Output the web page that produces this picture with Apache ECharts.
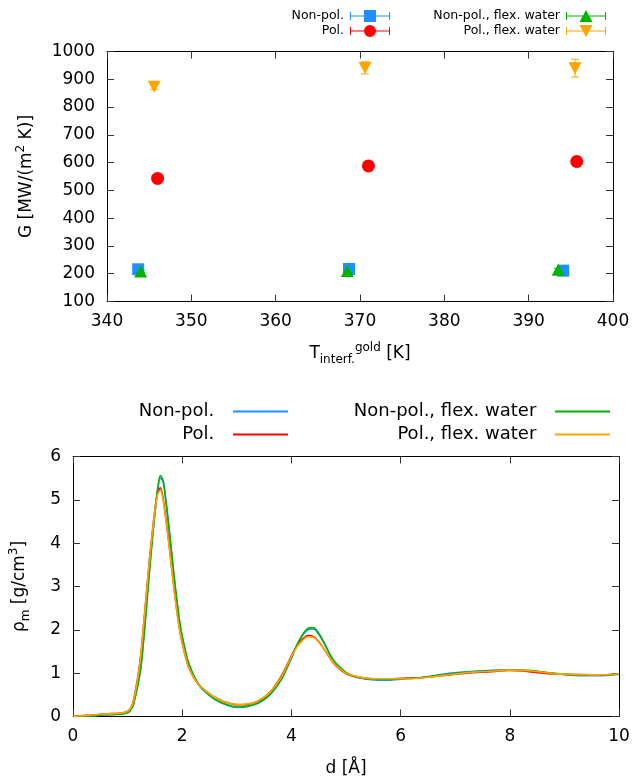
<!DOCTYPE html>
<html>
<head>
<meta charset="utf-8">
<script src="https://cdn.jsdelivr.net/npm/echarts@6/dist/echarts.min.js"></script>
<style>
  html, body { margin: 0; padding: 0; background: #fff; }
  #chart { width: 634px; height: 780px; }
</style>
</head>
<body>
<div id="chart"></div>
<script>
// ---------- Interface conductance G vs. gold interface temperature ----------
const seriesNames = ['Non-pol.', 'Pol.', 'Non-pol., flex. water', 'Pol., flex. water'];

const tempNonPol = [343.7, 368.7, 394.1];
const gNonPol = [216, 217, 211];
const errNonPol = [4, 5, 5];

const tempPol = [346.0, 371.0, 395.7];
const gPol = [543, 588, 604];
const errPol = [8, 13, 17];

const tempNonPolFlex = [344.0, 368.5, 393.5];
const gNonPolFlex = [208, 210, 214];
const errNonPolFlex = [4, 5, 5];

const tempPolFlex = [345.6, 370.6, 395.5];
const gPolFlex = [873, 941, 940];
const errPolFlex = [9, 22, 32];

const tempTicks = [340, 350, 360, 370, 380, 390, 400];
const gTicks = [100, 200, 300, 400, 500, 600, 700, 800, 900, 1000];

// ---------- Mass density profile rho_m vs. distance d ----------
const dVals = [0, 0.2, 0.4, 0.6, 0.8, 0.9, 1.0, 1.05, 1.1, 1.15, 1.2, 1.25, 1.3, 1.35, 1.4,
  1.45, 1.5, 1.55, 1.6, 1.65, 1.7, 1.75, 1.8, 1.85, 1.9, 1.95, 2.0, 2.1, 2.2, 2.3,
  2.4, 2.6, 2.8, 3.0, 3.2, 3.4, 3.6, 3.8, 4.0, 4.1, 4.2, 4.3, 4.4, 4.5, 4.6,
  4.7, 4.8, 5.0, 5.2, 5.4, 5.6, 5.8, 6.0, 6.4, 6.8, 7.2, 7.6, 8.0, 8.4, 8.8,
  9.2, 9.6, 10.0];

const rhoNonPol = [0, 0.01, 0.02, 0.04, 0.05, 0.06, 0.09, 0.14, 0.26, 0.52, 0.82, 1.22, 1.87, 2.62, 3.36,
  4.05, 4.68, 5.22, 5.5, 5.42, 4.98, 4.43, 3.84, 3.24, 2.7, 2.21, 1.84, 1.3, 0.97, 0.74,
  0.59, 0.39, 0.27, 0.21, 0.23, 0.31, 0.49, 0.82, 1.34, 1.64, 1.86, 2.0, 2.02, 1.9, 1.69,
  1.44, 1.23, 1.0, 0.9, 0.86, 0.84, 0.84, 0.86, 0.9, 0.98, 1.03, 1.06, 1.08, 1.05, 0.99,
  0.95, 0.94, 0.97];

const rhoPol = [0, 0.02, 0.04, 0.06, 0.07, 0.08, 0.12, 0.18, 0.33, 0.64, 1.02, 1.52, 2.22, 2.92, 3.62,
  4.22, 4.78, 5.17, 5.28, 5.04, 4.58, 4.07, 3.52, 2.97, 2.46, 2.03, 1.7, 1.2, 0.92, 0.74,
  0.62, 0.44, 0.33, 0.27, 0.28, 0.36, 0.55, 0.9, 1.4, 1.63, 1.78, 1.87, 1.85, 1.73, 1.55,
  1.36, 1.19, 0.99, 0.91, 0.87, 0.87, 0.87, 0.88, 0.9, 0.95, 1.0, 1.03, 1.06, 1.03, 0.98,
  0.97, 0.96, 0.98];

const rhoNonPolFlex = [0, 0.01, 0.02, 0.04, 0.05, 0.06, 0.09, 0.14, 0.25, 0.5, 0.8, 1.2, 1.85, 2.6, 3.35,
  4.05, 4.7, 5.25, 5.56, 5.45, 5.0, 4.45, 3.85, 3.25, 2.7, 2.22, 1.85, 1.3, 0.98, 0.75,
  0.6, 0.4, 0.28, 0.22, 0.24, 0.32, 0.5, 0.82, 1.35, 1.65, 1.88, 2.03, 2.05, 1.92, 1.7,
  1.45, 1.25, 1.02, 0.92, 0.88, 0.86, 0.86, 0.87, 0.9, 0.97, 1.02, 1.05, 1.08, 1.06, 1.0,
  0.96, 0.96, 0.98];

const rhoPolFlex = [0, 0.02, 0.04, 0.06, 0.07, 0.08, 0.12, 0.18, 0.32, 0.62, 1.0, 1.5, 2.2, 2.9, 3.6,
  4.2, 4.75, 5.12, 5.22, 5.0, 4.55, 4.05, 3.5, 2.95, 2.45, 2.02, 1.7, 1.2, 0.92, 0.74,
  0.62, 0.44, 0.33, 0.28, 0.29, 0.37, 0.55, 0.88, 1.38, 1.6, 1.75, 1.84, 1.83, 1.72, 1.55,
  1.37, 1.2, 1.0, 0.92, 0.88, 0.87, 0.87, 0.87, 0.89, 0.95, 1.01, 1.04, 1.07, 1.05, 0.99,
  0.97, 0.96, 0.98];

const dTicks = [0, 2, 4, 6, 8, 10];
const rhoTicks = [0, 1, 2, 3, 4, 5, 6];

// ---------- styling ----------
const colors = ['#1e90ff', '#ff0000', '#00b400', '#ffa500'];
const FONT = 'DejaVu Sans';
const INK = '#000';

// legend glyphs: error bar with caps and the marker in the middle (40 x 12)
const bar = 'M0,5.5 L40,5.5 L40,6.5 L0,6.5 Z M0,2 L1,2 L1,10 L0,10 Z M39,2 L40,2 L40,10 L39,10 Z ';
const legendIcons = [
  'path://' + bar + 'M14,0 L26,0 L26,12 L14,12 Z',
  'path://' + bar + 'M26,6 A6,6 0 1,1 14,6 A6,6 0 1,1 26,6 Z',
  'path://' + bar + 'M20,0 L26.5,12 L13.5,12 Z',
  'path://' + bar + 'M13.5,0 L26.5,0 L20,12 Z'
];

const markerSpec = [
  { symbol: 'rect', symbolSize: 12, symbolRotate: 0 },
  { symbol: 'circle', symbolSize: 13, symbolRotate: 0 },
  { symbol: 'triangle', symbolSize: [13, 12], symbolRotate: 0 },
  { symbol: 'triangle', symbolSize: [13, 12], symbolRotate: 180 }
];

const tempSets = [tempNonPol, tempPol, tempNonPolFlex, tempPolFlex];
const gSets = [gNonPol, gPol, gNonPolFlex, gPolFlex];
const errSets = [errNonPol, errPol, errNonPolFlex, errPolFlex];
const rhoSets = [rhoNonPol, rhoPol, rhoNonPolFlex, rhoPolFlex];

function errorBars(xs, ys, errs, color) {
  return {
    type: 'custom',
    xAxisIndex: 0,
    yAxisIndex: 0,
    silent: true,
    clip: false,
    encode: { x: 0, y: [1, 2] },
    data: xs.map((x, i) => [x, ys[i] - errs[i], ys[i] + errs[i]]),
    renderItem: function (params, api) {
      const lo = api.coord([api.value(0), api.value(1)]);
      const hi = api.coord([api.value(0), api.value(2)]);
      const w = 4;
      const st = { stroke: color, lineWidth: 1 };
      return {
        type: 'group',
        children: [
          { type: 'line', shape: { x1: lo[0], y1: lo[1], x2: hi[0], y2: hi[1] }, style: st },
          { type: 'line', shape: { x1: lo[0] - w, y1: lo[1], x2: lo[0] + w, y2: lo[1] }, style: st },
          { type: 'line', shape: { x1: hi[0] - w, y1: hi[1], x2: hi[0] + w, y2: hi[1] }, style: st }
        ]
      };
    }
  };
}

const series = [];
for (let k = 0; k < 4; k++) {
  series.push(errorBars(tempSets[k], gSets[k], errSets[k], colors[k]));
  series.push({
    name: seriesNames[k],
    type: 'scatter',
    xAxisIndex: 0,
    yAxisIndex: 0,
    symbol: markerSpec[k].symbol,
    symbolSize: markerSpec[k].symbolSize,
    symbolRotate: markerSpec[k].symbolRotate,
    itemStyle: { color: colors[k], opacity: 1 },
    data: tempSets[k].map((t, i) => [t, gSets[k][i]])
  });
}
for (let k = 0; k < 4; k++) {
  series.push({
    name: seriesNames[k] + ' ',
    type: 'line',
    xAxisIndex: 2,
    yAxisIndex: 2,
    showSymbol: false,
    smooth: 0.3,
    lineStyle: { color: colors[k], width: 1.6 },
    itemStyle: { color: colors[k] },
    data: dVals.map((d, i) => [d, rhoSets[k][i]])
  });
}

const tickLine = { show: true, inside: true, length: 7, lineStyle: { color: '#333', width: 1 } };
const frameLine = { show: true, onZero: false, lineStyle: { color: INK, width: 1 } };
const labelStyle = { color: INK, fontSize: 17, fontFamily: FONT };

const richText = {
  n: { fontSize: 17, fontFamily: FONT, color: INK, lineHeight: 24 },
  sub: { fontSize: 12, fontFamily: FONT, color: INK, lineHeight: 12, verticalAlign: 'bottom' },
  sup: { fontSize: 12, fontFamily: FONT, color: INK, lineHeight: 10, verticalAlign: 'top' }
};

function valueAxis(gridIndex, position, ticks, showLabels, extra) {
  return Object.assign({
    type: 'value',
    gridIndex: gridIndex,
    position: position,
    min: ticks[0],
    max: ticks[ticks.length - 1],
    interval: ticks[1] - ticks[0],
    axisLine: frameLine,
    axisTick: tickLine,
    splitLine: { show: false },
    axisLabel: Object.assign({ show: showLabels, margin: 12, formatter: v => String(v) }, labelStyle)
  }, extra || {});
}

function legendItem(k, right, top, icon, opts) {
  return {
    data: [{ name: seriesNames[k] + opts.suffix, icon: icon }],
    orient: 'vertical',
    align: 'right',
    right: right,
    top: top,
    padding: 0,
    selectedMode: false,
    itemWidth: opts.w,
    itemHeight: opts.h,
    textStyle: { color: INK, fontFamily: FONT, fontSize: opts.fs, padding: opts.pad }
  };
}

const topOpts = { suffix: '', w: 40, h: 12, fs: 12.5, pad: [0, 1, 0, 0] };
const botOpts = { suffix: ' ', w: 55, h: 2, fs: 18, pad: [0, 8, 0, 0] };

const option = {
  animation: false,
  backgroundColor: '#fff',
  grid: [
    { left: 107, right: 21, top: 51.5, height: 250 },
    { left: 73, right: 15, top: 456.5, height: 260 }
  ],
  legend: [
    legendItem(0, 244, 9.5, legendIcons[0], topOpts),
    legendItem(1, 244, 24.5, legendIcons[1], topOpts),
    legendItem(2, 28, 9.5, legendIcons[2], topOpts),
    legendItem(3, 28, 24.5, legendIcons[3], topOpts),
    legendItem(0, 346, 402.5, 'rect', botOpts),
    legendItem(1, 346, 425.5, 'rect', botOpts),
    legendItem(2, 24, 402.5, 'rect', botOpts),
    legendItem(3, 24, 425.5, 'rect', botOpts)
  ],
  xAxis: [
    valueAxis(0, 'bottom', tempTicks, true, {
      name: '{n|T}{sub|interf.}{sup|gold}{n| [K]}',
      nameLocation: 'middle',
      nameGap: 40,
      nameTextStyle: { rich: richText }
    }),
    valueAxis(0, 'top', tempTicks, false),
    valueAxis(1, 'bottom', dTicks, true, {
      name: '{n|d [Å]}',
      nameLocation: 'middle',
      nameGap: 40,
      nameTextStyle: { rich: richText }
    }),
    valueAxis(1, 'top', dTicks, false)
  ],
  yAxis: [
    valueAxis(0, 'left', gTicks, true, {
      name: '{n|G [MW/(m}{sup|2}{n| K)]}',
      nameLocation: 'middle',
      nameGap: 68,
      nameTextStyle: { rich: richText }
    }),
    valueAxis(0, 'right', gTicks, false),
    valueAxis(1, 'left', rhoTicks, true, {
      name: '{n|ρ}{sub|m}{n| [g/cm}{sup|3}{n|]}',
      nameLocation: 'middle',
      nameGap: 41,
      nameTextStyle: { rich: richText }
    }),
    valueAxis(1, 'right', rhoTicks, false)
  ],
  series: series
};

const chart = echarts.init(document.getElementById('chart'), null, { renderer: 'canvas' });
chart.setOption(option);
</script>
</body>
</html>
